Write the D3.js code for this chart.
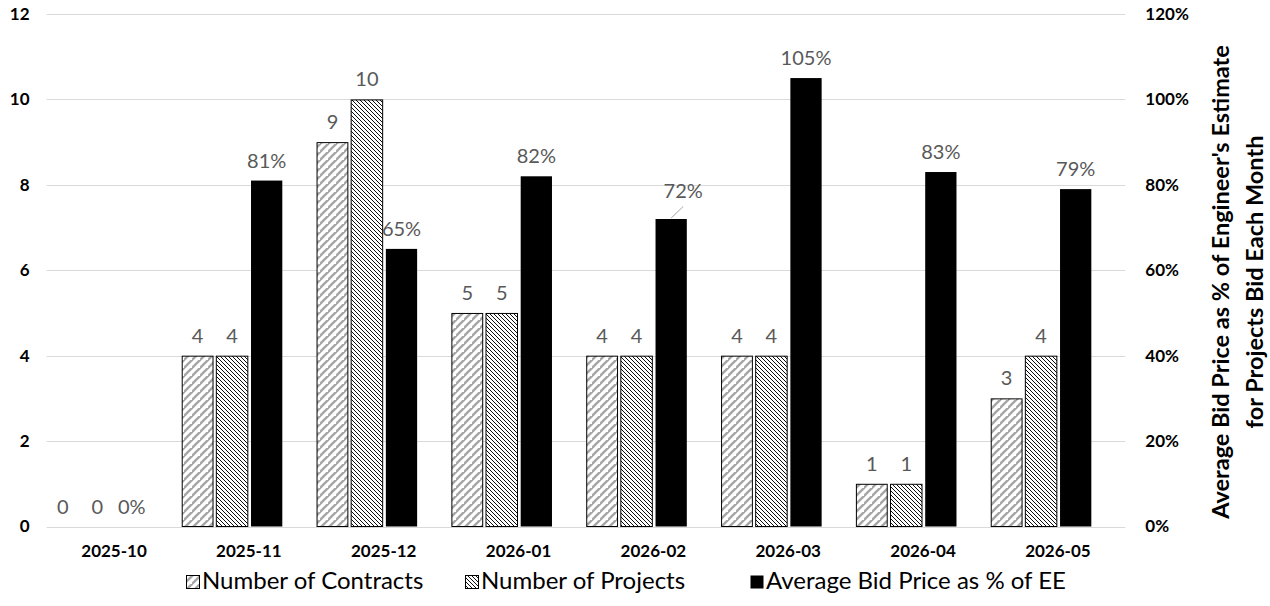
<!DOCTYPE html>
<html>
<head>
<meta charset="utf-8">
<script src="https://cdn.jsdelivr.net/npm/d3@7"></script>
<style>
  body { margin: 0; background: #fff; }
  svg { display: block; }
</style>
</head>
<body>
<svg id="chart" width="1270" height="606"></svg>
<script>
// Monthly bidding summary
const months = ["2025-10", "2025-11", "2025-12", "2026-01", "2026-02", "2026-03", "2026-04", "2026-05"];
const contracts = [0, 4, 9, 5, 4, 4, 1, 3];
const projects = [0, 4, 10, 5, 4, 4, 1, 4];
const avgBidPct = [0, 81, 65, 82, 72, 105, 83, 79];
const countTicks = [0, 2, 4, 6, 8, 10, 12];
const pctTicks = [0, 20, 40, 60, 80, 100, 120];
const seriesNames = ["Number of Contracts", "Number of Projects", "Average Bid Price as % of EE"];
const rightTitle = ["Average Bid Price as % of Engineer's Estimate", "for Projects Bid Each Month"];

const svg = d3.select("#chart");
const FONT = "Lato, 'Open Sans', sans-serif";
const plot = { left: 46.6, right: 1125.3, top: 14, bottom: 526.5 };

const x = d3.scaleBand().domain(months).range([plot.left, plot.right]).padding(0);
const y = d3.scaleLinear().domain([0, 12]).range([plot.bottom, plot.top]);
const y2 = d3.scaleLinear().domain([0, 120]).range([plot.bottom, plot.top]);

// Fill patterns
const defs = svg.append("defs");
const wide = defs.append("pattern").attr("id", "wideUp")
  .attr("patternUnits", "userSpaceOnUse").attr("width", 8).attr("height", 8);
wide.append("rect").attr("width", 8).attr("height", 8).attr("fill", "#fff");
wide.append("path").attr("d", "M-2,10 L10,-2 M-10,10 L2,-2 M6,18 L18,6")
  .attr("stroke", "#a6a6a6").attr("stroke-width", 2.4);

const dark = defs.append("pattern").attr("id", "darkDown")
  .attr("patternUnits", "userSpaceOnUse").attr("width", 4).attr("height", 4);
dark.append("rect").attr("width", 4).attr("height", 4).attr("fill", "#fff");
dark.append("path").attr("d", "M-1,-1 L5,5 M-1,3 L1,5 M3,-1 L5,1")
  .attr("stroke", "#000").attr("stroke-width", 0.95);

// Gridlines
svg.append("g").selectAll("line").data(countTicks).join("line")
  .attr("x1", plot.left).attr("x2", plot.right)
  .attr("y1", d => Math.round(y(d)) + 0.5).attr("y2", d => Math.round(y(d)) + 0.5)
  .attr("stroke", "#d9d9d9").attr("stroke-width", 1);

// Bar slots inside each month band (fractions of the band width)
const slots = [
  { off: 0.002, w: 0.236 },
  { off: 0.255, w: 0.241 },
  { off: 0.516, w: 0.232 }
];
const bw = x.bandwidth();

function drawBars(values, scale, slot, fill, outlined, cls) {
  const rows = months.map((m, i) => ({ m, v: values[i] })).filter(d => d.v > 0);
  svg.append("g").attr("class", cls).selectAll("rect").data(rows).join("rect")
    .attr("x", d => x(d.m) + slot.off * bw + (outlined ? 0.5 : 0))
    .attr("width", slot.w * bw - (outlined ? 1 : 0))
    .attr("y", d => scale(d.v) + (outlined ? 0.5 : 0))
    .attr("height", d => scale(0) - scale(d.v) - (outlined ? 0.5 : 0))
    .attr("fill", fill)
    .attr("stroke", outlined ? "#000" : "none")
    .attr("stroke-width", 1);
}
drawBars(contracts, y, slots[0], "url(#wideUp)", true, "contracts");
drawBars(projects, y, slots[1], "url(#darkDown)", true, "projects");
drawBars(avgBidPct, y2, slots[2], "#000", false, "avg");

// Data labels
const labelColor = "#595959";
function drawLabels(values, scale, slot, fmt) {
  const g = svg.append("g").attr("font-family", FONT).attr("font-size", 20)
    .attr("fill", labelColor).attr("text-anchor", "middle");
  months.forEach((m, i) => {
    const cx = x(m) + (slot.off + slot.w / 2) * bw;
    const top = scale(values[i]);
    if (m === "2026-02" && fmt === "%") {
      // label lifted with a leader line
      g.append("line").attr("x1", cx).attr("y1", top - 1).attr("x2", cx + 12).attr("y2", top - 12.5)
        .attr("stroke", "#a6a6a6").attr("stroke-width", 1);
      g.append("text").attr("x", cx + 12).attr("y", top - 21).text(values[i] + "%");
    } else {
      g.append("text").attr("x", cx).attr("y", top - 13)
        .text(fmt === "%" ? values[i] + "%" : values[i]);
    }
  });
}
drawLabels(contracts, y, slots[0], "n");
drawLabels(projects, y, slots[1], "n");
drawLabels(avgBidPct, y2, slots[2], "%");

// Axes
function styleAxis(g) {
  g.select(".domain").remove();
  g.selectAll(".tick line").remove();
  g.selectAll("text").attr("font-family", FONT).attr("font-size", 17)
    .attr("font-weight", "bold").attr("fill", "#000");
}
svg.append("g").attr("transform", `translate(${plot.left},0)`)
  .call(d3.axisLeft(y).tickValues(countTicks).tickSize(0).tickPadding(17))
  .call(styleAxis);
svg.append("g").attr("transform", `translate(${plot.right},0)`)
  .call(d3.axisRight(y2).tickValues(pctTicks).tickSize(0).tickPadding(20).tickFormat(d => d + "%"))
  .call(styleAxis);
svg.append("g").attr("transform", `translate(0,${plot.bottom})`)
  .call(d3.axisBottom(x).tickSize(0).tickPadding(18))
  .call(styleAxis);

// Right axis title
const tg = svg.append("g").attr("transform", "translate(1229,282) rotate(-90)")
  .attr("font-family", FONT).attr("font-size", 23.5).attr("font-weight", "bold")
  .attr("text-anchor", "middle").attr("fill", "#000");
tg.append("text").attr("x", 0).attr("y", 0).text(rightTitle[0]);
tg.append("text").attr("x", 0).attr("y", 34).text(rightTitle[1]);

// Legend
const legendItems = [
  { name: seriesNames[0], fill: "url(#wideUp)", stroke: "#000", sx: 186 },
  { name: seriesNames[1], fill: "url(#darkDown)", stroke: "#000", sx: 465 },
  { name: seriesNames[2], fill: "#000", stroke: "none", sx: 750 }
];
const lg = svg.append("g").attr("font-family", FONT).attr("font-size", 24).attr("fill", "#000");
legendItems.forEach(it => {
  lg.append("rect").attr("x", it.sx + 0.5).attr("y", 575.5).attr("width", 13).attr("height", 13)
    .attr("fill", it.fill).attr("stroke", it.stroke).attr("stroke-width", 1);
  lg.append("text").attr("x", it.sx + 16).attr("y", 589).text(it.name);
});
</script>
</body>
</html>
